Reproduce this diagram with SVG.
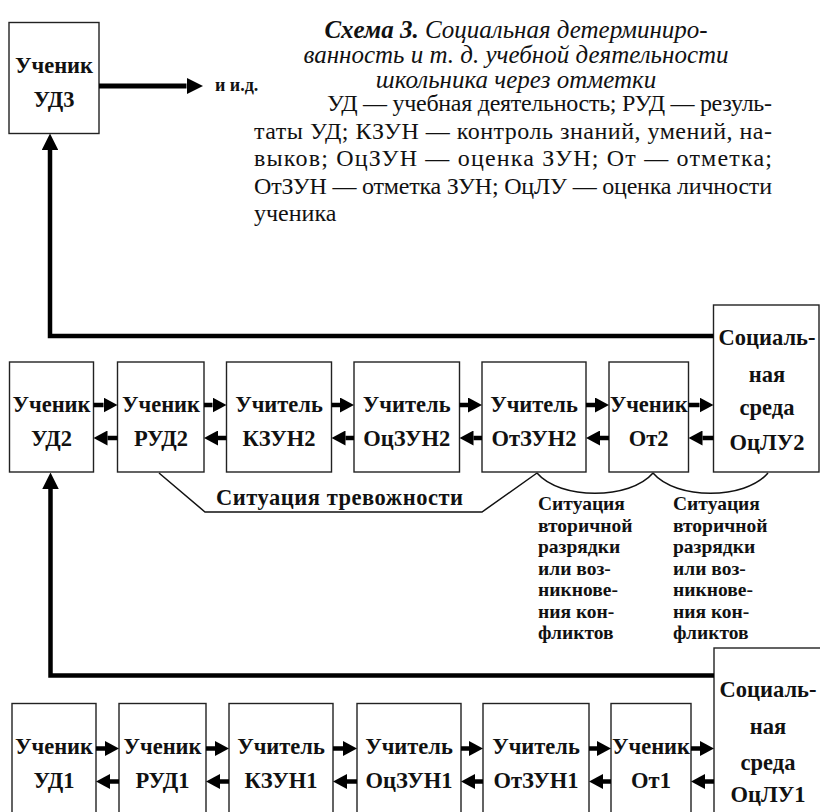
<svg xmlns="http://www.w3.org/2000/svg" width="820" height="812" viewBox="0 0 820 812">
<style>
.box{fill:#fff;stroke:#222;stroke-width:1.4}
.lbl{font-family:"Liberation Serif",serif;font-weight:bold;font-size:22.5px;text-anchor:middle;fill:#111}
.note{font-family:"Liberation Serif",serif;font-weight:bold;font-size:19.5px;fill:#111}
.title{font-family:"Liberation Serif",serif;font-style:italic;font-size:25px;text-anchor:middle;fill:#111}
.body{font-family:"Liberation Serif",serif;font-size:24px;fill:#111}
.thick{stroke:#000;stroke-width:4.5;fill:none;stroke-linejoin:miter}
.arr{stroke:#000;stroke-width:4.5;fill:none}
.thin{stroke:#111;stroke-width:1.5;fill:none}
</style>
<defs>
<marker id="ah" viewBox="0 0 14 15" refX="0" refY="7.5" markerWidth="14" markerHeight="15" markerUnits="userSpaceOnUse" orient="auto">
<path d="M0,0 L14,7.5 L0,15 z" fill="#000"/>
</marker>
<marker id="ahb" viewBox="0 0 16.5 16.5" refX="0" refY="8.25" markerWidth="16.5" markerHeight="16.5" markerUnits="userSpaceOnUse" orient="auto">
<path d="M0,0 L16.5,8.25 L0,16.5 z" fill="#000"/>
</marker>
</defs>

<!-- title and legend -->
<g id="caption">
<text class="title" x="516" y="37.5"><tspan font-weight="bold">Схема 3.</tspan> Социальная детерминиро-</text>
<text class="title" x="516" y="62.5">ванность и т. д. учебной деятельности</text>
<text class="title" x="516" y="87.5">школьника через отметки</text>
<text class="body" x="327" y="111" textLength="445" lengthAdjust="spacing">УД — учебная деятельность; РУД — резуль-</text>
<text class="body" x="254" y="138.5" textLength="518" lengthAdjust="spacing">таты УД; КЗУН — контроль знаний, умений, на-</text>
<text class="body" x="254" y="166" textLength="518" lengthAdjust="spacing">выков; ОцЗУН — оценка ЗУН; От — отметка;</text>
<text class="body" x="254" y="193.5" textLength="518" lengthAdjust="spacing">ОтЗУН — отметка ЗУН; ОцЛУ — оценка личности</text>
<text class="body" x="254" y="221">ученика</text>
</g>

<!-- top node -->
<g id="n-ud3">
<rect class="box" x="9" y="22.5" width="90" height="111"/>
<text class="lbl" x="54" y="72.5">Ученик</text>
<text class="lbl" x="54" y="106.5">УД3</text>
</g>
<g id="etc">
<text class="lbl" x="215" y="90.5" style="text-anchor:start;font-size:18px">и и.д.</text>
</g>

<!-- middle row -->
<g id="n-ud2"><rect class="box" x="9.5" y="362" width="84" height="110"/>
<text class="lbl" x="51.5" y="411.5">Ученик</text><text class="lbl" x="51.5" y="445.5">УД2</text></g>
<g id="n-rud2"><rect class="box" x="117.5" y="362" width="86.5" height="110"/>
<text class="lbl" x="161" y="411.5">Ученик</text><text class="lbl" x="161" y="445.5">РУД2</text></g>
<g id="n-kzun2"><rect class="box" x="226.5" y="362" width="105" height="110"/>
<text class="lbl" x="279" y="411.5">Учитель</text><text class="lbl" x="279" y="445.5">КЗУН2</text></g>
<g id="n-oczun2"><rect class="box" x="354" y="362" width="105.5" height="110"/>
<text class="lbl" x="406.7" y="411.5">Учитель</text><text class="lbl" x="406.7" y="445.5">ОцЗУН2</text></g>
<g id="n-otzun2"><rect class="box" x="482" y="362" width="104" height="110"/>
<text class="lbl" x="534" y="411.5">Учитель</text><text class="lbl" x="534" y="445.5">ОтЗУН2</text></g>
<g id="n-ot2"><rect class="box" x="609" y="362" width="79.5" height="110"/>
<text class="lbl" x="648.7" y="411.5">Ученик</text><text class="lbl" x="648.7" y="445.5">От2</text></g>
<g id="n-oclu2"><rect class="box" x="713.5" y="305" width="105.5" height="167"/>
<text class="lbl" x="767" y="345">Социаль-</text><text class="lbl" x="767" y="381.5">ная</text>
<text class="lbl" x="767" y="415">среда</text><text class="lbl" x="767" y="449.5">ОцЛУ2</text></g>

<!-- bottom row -->
<g id="n-ud1"><rect class="box" x="12" y="703.5" width="84" height="120"/>
<text class="lbl" x="54" y="753.5">Ученик</text><text class="lbl" x="54" y="788">УД1</text></g>
<g id="n-rud1"><rect class="box" x="119" y="703.5" width="87" height="120"/>
<text class="lbl" x="162.5" y="753.5">Ученик</text><text class="lbl" x="162.5" y="788">РУД1</text></g>
<g id="n-kzun1"><rect class="box" x="229" y="703.5" width="104" height="120"/>
<text class="lbl" x="281" y="753.5">Учитель</text><text class="lbl" x="281" y="788">КЗУН1</text></g>
<g id="n-oczun1"><rect class="box" x="357" y="703.5" width="104" height="120"/>
<text class="lbl" x="409" y="753.5">Учитель</text><text class="lbl" x="409" y="788">ОцЗУН1</text></g>
<g id="n-otzun1"><rect class="box" x="483" y="703.5" width="106" height="120"/>
<text class="lbl" x="536" y="753.5">Учитель</text><text class="lbl" x="536" y="788">ОтЗУН1</text></g>
<g id="n-ot1"><rect class="box" x="611" y="703.5" width="80" height="120"/>
<text class="lbl" x="651" y="753.5">Ученик</text><text class="lbl" x="651" y="788">От1</text></g>
<g id="n-oclu1"><rect class="box" x="714" y="648" width="110" height="180"/>
<text class="lbl" x="768" y="696.5">Социаль-</text><text class="lbl" x="768" y="734">ная</text>
<text class="lbl" x="768" y="770">среда</text><text class="lbl" x="768" y="801.5">ОцЛУ1</text></g>

<!-- situation labels -->
<g id="sit-anx">
<text class="lbl" x="216" y="505" style="text-anchor:start" textLength="247" lengthAdjust="spacing">Ситуация тревожности</text>
</g>
<g id="sit-conf1">
<text class="note" y="510"><tspan x="538">Ситуация</tspan><tspan x="538" dy="21.5">вторичной</tspan><tspan x="538" dy="21.5">разрядки</tspan><tspan x="538" dy="21.5">или воз-</tspan><tspan x="538" dy="21.5">никнове-</tspan><tspan x="538" dy="21.5">ния кон-</tspan><tspan x="538" dy="21.5">фликтов</tspan></text>
</g>
<g id="sit-conf2">
<text class="note" y="510"><tspan x="673">Ситуация</tspan><tspan x="673" dy="21.5">вторичной</tspan><tspan x="673" dy="21.5">разрядки</tspan><tspan x="673" dy="21.5">или воз-</tspan><tspan x="673" dy="21.5">никнове-</tspan><tspan x="673" dy="21.5">ния кон-</tspan><tspan x="673" dy="21.5">фликтов</tspan></text>
</g>

<!-- connectors -->
<g id="connectors">
<line class="arr" x1="99" y1="86" x2="186.5" y2="86" style="stroke-width:5" marker-end="url(#ahb)"/>
<path class="thick" d="M713.5,336 H50 V150" marker-end="url(#ahb)"/>
<path class="thick" d="M714,675.5 H50.5 V489" marker-end="url(#ahb)"/>

<line class="arr" x1="93.5" y1="405" x2="103.5" y2="405" marker-end="url(#ah)"/>
<line class="arr" x1="204" y1="405" x2="212.5" y2="405" marker-end="url(#ah)"/>
<line class="arr" x1="331.5" y1="405" x2="340" y2="405" marker-end="url(#ah)"/>
<line class="arr" x1="459.5" y1="405" x2="468" y2="405" marker-end="url(#ah)"/>
<line class="arr" x1="586" y1="405" x2="595" y2="405" marker-end="url(#ah)"/>
<line class="arr" x1="688.5" y1="405" x2="699.5" y2="405" marker-end="url(#ah)"/>
<line class="arr" x1="117.5" y1="438" x2="107.5" y2="438" marker-end="url(#ah)"/>
<line class="arr" x1="226.5" y1="438" x2="218" y2="438" marker-end="url(#ah)"/>
<line class="arr" x1="354" y1="438" x2="345.5" y2="438" marker-end="url(#ah)"/>
<line class="arr" x1="482" y1="438" x2="473.5" y2="438" marker-end="url(#ah)"/>
<line class="arr" x1="609" y1="438" x2="600" y2="438" marker-end="url(#ah)"/>
<line class="arr" x1="713.5" y1="438" x2="702.5" y2="438" marker-end="url(#ah)"/>

<line class="arr" x1="96" y1="748.5" x2="105" y2="748.5" marker-end="url(#ah)"/>
<line class="arr" x1="206" y1="748.5" x2="215" y2="748.5" marker-end="url(#ah)"/>
<line class="arr" x1="333" y1="748.5" x2="343" y2="748.5" marker-end="url(#ah)"/>
<line class="arr" x1="461" y1="748.5" x2="469" y2="748.5" marker-end="url(#ah)"/>
<line class="arr" x1="589" y1="748.5" x2="597" y2="748.5" marker-end="url(#ah)"/>
<line class="arr" x1="691" y1="748.5" x2="700" y2="748.5" marker-end="url(#ah)"/>
<line class="arr" x1="119" y1="781.5" x2="110" y2="781.5" marker-end="url(#ah)"/>
<line class="arr" x1="229" y1="781.5" x2="220" y2="781.5" marker-end="url(#ah)"/>
<line class="arr" x1="357" y1="781.5" x2="347" y2="781.5" marker-end="url(#ah)"/>
<line class="arr" x1="483" y1="781.5" x2="475" y2="781.5" marker-end="url(#ah)"/>
<line class="arr" x1="611" y1="781.5" x2="603" y2="781.5" marker-end="url(#ah)"/>
<line class="arr" x1="714" y1="781.5" x2="705" y2="781.5" marker-end="url(#ah)"/>

<path class="thin" d="M159,473 L205,512 H482 L537,473"/>
<path class="thin" d="M537,473 C560,500 630,500 653,473"/>
<path class="thin" d="M653,473 C676,500 745,500 768,473"/>
</g>
</svg>
